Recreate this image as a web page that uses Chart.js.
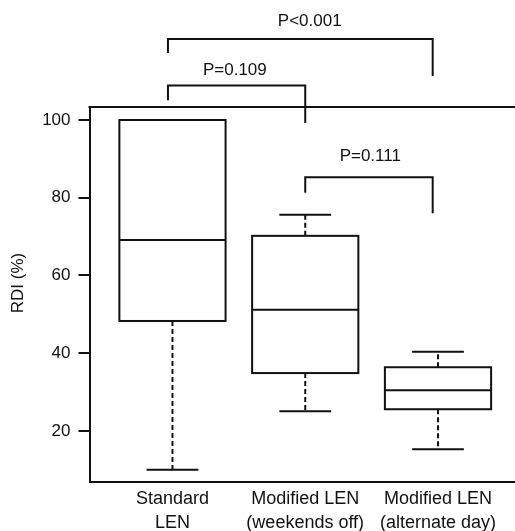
<!DOCTYPE html>
<html>
<head>
<meta charset="utf-8">
<script src="https://cdn.jsdelivr.net/npm/chart.js@4.4.0/dist/chart.umd.min.js"></script>
<style>
    html, body { margin: 0; padding: 0; background: #fff; overflow: hidden; }
</style>
</head>
<body>
<canvas id="rdiChart" width="515" height="531"></canvas>
<script>
// Groups
const groupLabels = [
    ['Standard', 'LEN'],
    ['Modified LEN', '(weekends off)'],
    ['Modified LEN', '(alternate day)']
];
const groupPositions = [1, 2, 3];

// Box plot summary values (RDI %)
const whiskerMin = [10.0, 25.1, 15.3];
const quartile1 = [48.3, 34.9, 25.6];
const medians = [69.1, 51.2, 30.5];
const quartile3 = [100.0, 70.2, 36.4];
const whiskerMax = [100.0, 75.6, 40.4];

// Y axis ticks
const yTicks = [20, 40, 60, 80, 100];

// Significance brackets: from group, to group, label
const bracketFrom = [0.966, 0.966, 2.0];
const bracketTo = [2.96, 2.0, 2.96];
const bracketLabels = ['P<0.001', 'P=0.109', 'P=0.111'];

const FONT = '"Liberation Sans", Arial, Helvetica, sans-serif';
const INK = '#111';

// Bracket geometry in axis units (above the plot for the first two)
const bracketTop = [120.8, 108.9, 85.3];
const bracketLeftEnd = [117.2, 105.1, 81.3];
const bracketRightEnd = [111.3, 99.2, 76.0];
const labelX = [2.034, 1.47, 2.49];
const labelY = [125.3, 112.9, 90.7];

const boxPlotPlugin = {
    id: 'boxPlot',
    afterDatasetsDraw(chart) {
        const { ctx, chartArea, scales: { x, y } } = chart;
        const boxHalf = 0.4;
        const capHalf = 0.195;

        ctx.save();
        ctx.strokeStyle = INK;
        ctx.lineWidth = 2;
        ctx.lineCap = 'butt';

        // top border of the frame (right side is cut off)
        ctx.beginPath();
        ctx.moveTo(chartArea.left - 1, chartArea.top);
        ctx.lineTo(chartArea.right, chartArea.top);
        ctx.stroke();

        groupPositions.forEach((pos, i) => {
            const xl = x.getPixelForValue(pos - boxHalf);
            const xr = x.getPixelForValue(pos + boxHalf);
            const xc = x.getPixelForValue(pos);
            const yq1 = y.getPixelForValue(quartile1[i]);
            const yq3 = y.getPixelForValue(quartile3[i]);
            const ymed = y.getPixelForValue(medians[i]);
            const ymin = y.getPixelForValue(whiskerMin[i]);
            const ymax = y.getPixelForValue(whiskerMax[i]);
            const cl = x.getPixelForValue(pos - capHalf);
            const cr = x.getPixelForValue(pos + capHalf);

            // whiskers
            ctx.setLineDash([5, 3]);
            ctx.beginPath();
            if (whiskerMin[i] < quartile1[i]) {
                ctx.moveTo(xc, yq1);
                ctx.lineTo(xc, ymin);
            }
            if (whiskerMax[i] > quartile3[i]) {
                ctx.moveTo(xc, yq3);
                ctx.lineTo(xc, ymax);
            }
            ctx.stroke();
            ctx.setLineDash([]);

            // caps
            ctx.beginPath();
            if (whiskerMin[i] < quartile1[i]) {
                ctx.moveTo(cl, ymin);
                ctx.lineTo(cr, ymin);
            }
            if (whiskerMax[i] > quartile3[i]) {
                ctx.moveTo(cl, ymax);
                ctx.lineTo(cr, ymax);
            }
            ctx.stroke();

            // box
            ctx.fillStyle = '#fff';
            ctx.fillRect(xl, yq3, xr - xl, yq1 - yq3);
            ctx.strokeRect(xl, yq3, xr - xl, yq1 - yq3);

            // median
            ctx.beginPath();
            ctx.moveTo(xl, ymed);
            ctx.lineTo(xr, ymed);
            ctx.stroke();
        });

        // significance brackets
        ctx.font = `17px ${FONT}`;
        ctx.fillStyle = INK;
        ctx.textAlign = 'center';
        ctx.textBaseline = 'middle';
        bracketLabels.forEach((label, i) => {
            const x1 = x.getPixelForValue(bracketFrom[i]);
            const x2 = x.getPixelForValue(bracketTo[i]);
            ctx.beginPath();
            ctx.moveTo(x1, y.getPixelForValue(bracketLeftEnd[i]));
            ctx.lineTo(x1, y.getPixelForValue(bracketTop[i]));
            ctx.lineTo(x2, y.getPixelForValue(bracketTop[i]));
            ctx.lineTo(x2, y.getPixelForValue(bracketRightEnd[i]));
            ctx.stroke();
            ctx.fillText(label, x.getPixelForValue(labelX[i]), y.getPixelForValue(labelY[i]));
        });

        // y axis title
        ctx.translate(18.5, 283);
        ctx.rotate(-Math.PI / 2);
        ctx.fillText('RDI (%)', 0, 0);

        ctx.restore();
    }
};

document.addEventListener('DOMContentLoaded', () => {
    const ctx = document.getElementById('rdiChart').getContext('2d');
    new Chart(ctx, {
        type: 'scatter',
        data: {
            datasets: [{
                label: 'Median RDI',
                data: groupPositions.map((pos, i) => ({ x: pos, y: medians[i] })),
                pointRadius: 0,
                showLine: false
            }]
        },
        options: {
            responsive: false,
            animation: false,
            layout: {
                padding: { top: 107, right: 0, bottom: 0, left: 0 }
            },
            plugins: {
                legend: { display: false },
                tooltip: { enabled: false }
            },
            scales: {
                x: {
                    type: 'linear',
                    min: 0.375,
                    max: 3.58,
                    afterBuildTicks: scale => {
                        scale.ticks = groupPositions.map(v => ({ value: v }));
                    },
                    afterFit: scale => { scale.height = 49; },
                    grid: { display: false, drawTicks: false, tickLength: 0 },
                    border: { display: true, color: INK, width: 2 },
                    ticks: {
                        padding: 6,
                        maxRotation: 0,
                        autoSkip: false,
                        color: INK,
                        font: { family: FONT, size: 18, lineHeight: 1.28 },
                        callback: value => groupLabels[groupPositions.indexOf(value)] || ''
                    }
                },
                y: {
                    min: 6.88,
                    max: 103.34,
                    afterBuildTicks: scale => {
                        scale.ticks = yTicks.map(v => ({ value: v }));
                    },
                    afterFit: scale => { scale.width = 89.5; },
                    grid: {
                        drawOnChartArea: false,
                        drawTicks: true,
                        tickLength: 11,
                        color: INK,
                        lineWidth: 2
                    },
                    border: { display: true, color: INK, width: 2 },
                    ticks: {
                        padding: 8,
                        color: INK,
                        font: { family: FONT, size: 17 }
                    }
                }
            }
        },
        plugins: [boxPlotPlugin]
    });
});
</script>
</body>
</html>
